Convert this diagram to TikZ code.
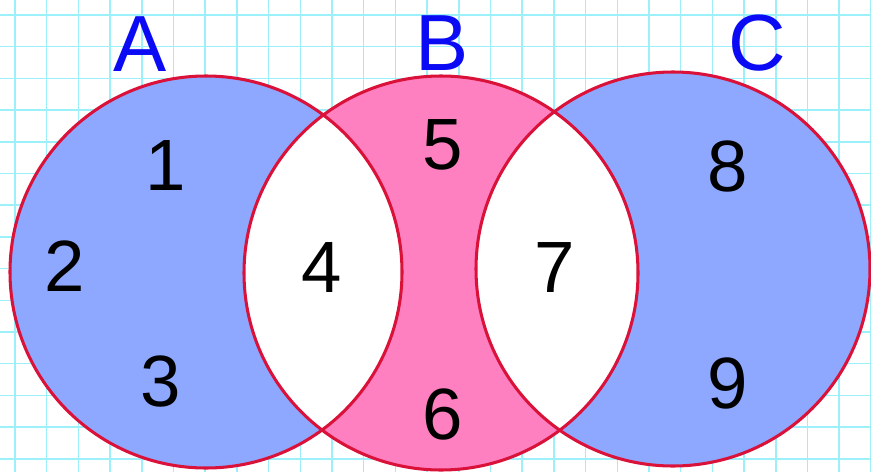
\documentclass[tikz,border=0pt]{standalone}
\usepackage{fontspec}
\setmainfont{Liberation Sans}
\usepackage{xcolor}
\definecolor{gridcol}{RGB}{155, 240, 250}
\definecolor{setblue}{RGB}{142, 167, 255}
\definecolor{setpink}{RGB}{255, 128, 192}
\definecolor{edgered}{RGB}{218, 18, 58}
\definecolor{labelblue}{RGB}{10, 10, 245}
\usepackage{tikz}

\begin{document}
\begin{tikzpicture}[x=0.03cm, y=-0.03cm,
  setlabel/.style={inner sep=0pt, text=labelblue, font=\fontsize{68}{68}\selectfont},
  num/.style={inner sep=0pt, text=black, font=\fontsize{62}{62}\selectfont},
  rim/.style={draw=edgered, line width=2.6pt}]
  \useasboundingbox (0,0) rectangle (871,472);
  \fill[white] (0,0) rectangle (871,472);

  % squared paper
  \foreach \k in {0,...,27}
    \draw[gridcol, line width=1.3pt] ({15+31.7*\k},0) -- ({15+31.7*\k},472);
  \foreach \k in {0,...,14}
    \draw[gridcol, line width=1.3pt] (0,{15+31.7*\k}) -- (871,{15+31.7*\k});

  \coordinate (cA) at (206,272);
  \coordinate (cB) at (441,273);
  \coordinate (cC) at (673,269);

  % the three sets
  \fill[setblue] (cA) circle (196);
  \fill[setpink] (cB) circle (197);
  \fill[setblue] (cC) circle (197);
  \begin{scope}
    \clip (cA) circle (196);
    \fill[white] (cB) circle (197);
  \end{scope}
  \begin{scope}
    \clip (cC) circle (197);
    \fill[white] (cB) circle (197);
  \end{scope}
  \draw[rim] (cA) circle (196);
  \draw[rim] (cB) circle (197);
  \draw[rim] (cC) circle (197);

  \node[setlabel] (lA) at (140,44) {A};
  \node[setlabel] (lB) at (442,43) {B};
  \node[setlabel] (lC) at (757,43) {C};

  \node[num] (n1) at (166,166) {1};
  \node[num] (n2) at (65,266) {2};
  \node[num] (n3) at (161,381) {3};
  \node[num] (n4) at (322,268) {4};
  \node[num] (n5) at (443,145) {5};
  \node[num] (n6) at (443,414) {6};
  \node[num] (n7) at (555,268) {7};
  \node[num] (n8) at (728,166) {8};
  \node[num] (n9) at (728,383) {9};
\end{tikzpicture}
\end{document}
